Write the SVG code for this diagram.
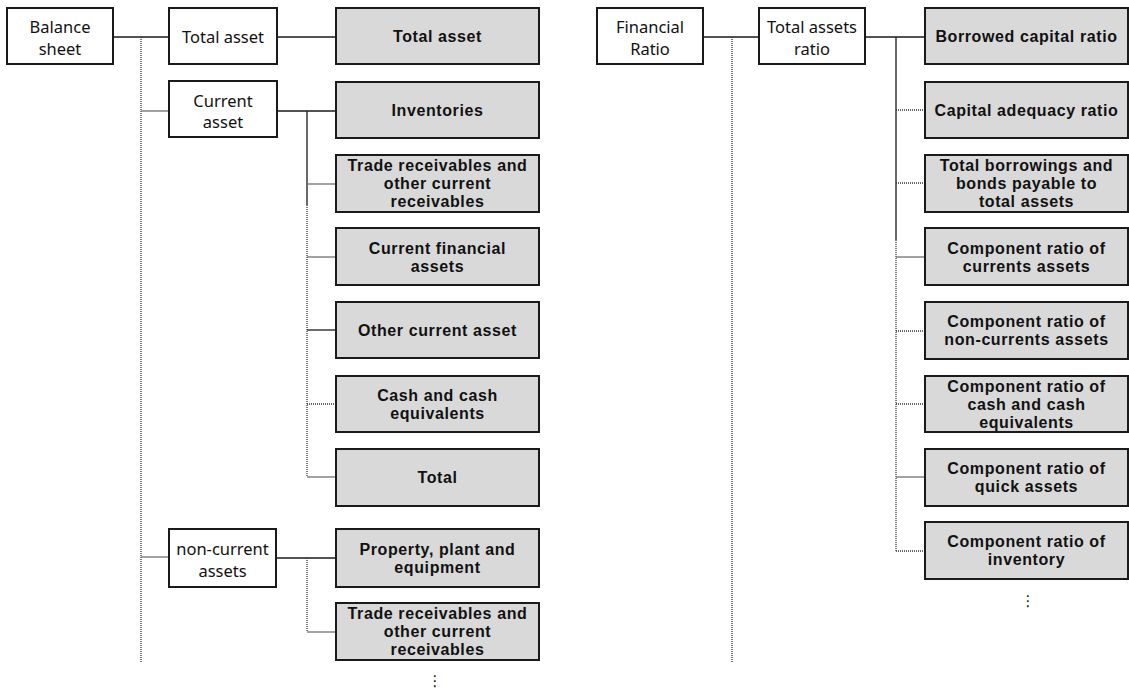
<svg xmlns="http://www.w3.org/2000/svg" width="1129" height="688" viewBox="0 0 1129 688">
  <style>
    .plain rect { fill: #ffffff; stroke: #1a1a1a; stroke-width: 2; }
    .item rect { fill: #d9d9d9; stroke: #1a1a1a; stroke-width: 2; }
    .plain text { font-family: "Noto Sans", "Liberation Sans", sans-serif; font-size: 16.5px; fill: #111; text-anchor: middle; }
    .item text { font-family: "Liberation Sans", Arial, sans-serif; font-size: 16px; font-weight: bold; letter-spacing: 0.6px; fill: #111; text-anchor: middle; }
    .solid { stroke: #1a1a1a; stroke-width: 1.3; fill: none; }
    .grey { stroke: #707070; stroke-width: 1.3; fill: none; }
    .dot { stroke: #333; stroke-width: 1.3; stroke-dasharray: 1 1; fill: none; }
    .more { font-family: "DejaVu Sans", sans-serif; font-size: 15px; fill: #111; text-anchor: middle; }
  </style>

  <!-- connectors -->
  <g id="connectors">
    <!-- balance sheet trunk -->
    <line class="solid" x1="113" y1="37" x2="169" y2="37"/>
    <line class="dot" x1="141" y1="37" x2="141" y2="663"/>
    <line class="grey" x1="141" y1="111" x2="169" y2="111"/>
    <line class="grey" x1="141" y1="557" x2="169" y2="557"/>
    <!-- total asset -->
    <line class="solid" x1="277" y1="37" x2="336" y2="37"/>
    <!-- current asset branch -->
    <line class="solid" x1="277" y1="111" x2="336" y2="111"/>
    <line class="solid" x1="307" y1="111" x2="307" y2="205"/>
    <line class="dot" x1="307" y1="205" x2="307" y2="477"/>
    <line class="grey" x1="307" y1="184" x2="336" y2="184"/>
    <line class="grey" x1="307" y1="257" x2="336" y2="257"/>
    <line class="solid" x1="307" y1="330" x2="336" y2="330"/>
    <line class="dot" x1="307" y1="404" x2="336" y2="404"/>
    <line class="grey" x1="307" y1="477" x2="336" y2="477"/>
    <!-- non-current asset branch -->
    <line class="solid" x1="276" y1="558" x2="336" y2="558"/>
    <line class="dot" x1="307" y1="558" x2="307" y2="632"/>
    <line class="grey" x1="307" y1="632" x2="336" y2="632"/>
    <!-- financial ratio trunk -->
    <line class="solid" x1="703" y1="37" x2="759" y2="37"/>
    <line class="dot" x1="732" y1="37" x2="732" y2="663"/>
    <!-- total assets ratio branch -->
    <line class="solid" x1="865" y1="37" x2="925" y2="37"/>
    <line class="solid" x1="896" y1="37" x2="896" y2="240"/>
    <line class="dot" x1="896" y1="240" x2="896" y2="551"/>
    <line class="dot" x1="896" y1="110" x2="925" y2="110"/>
    <line class="dot" x1="896" y1="183" x2="925" y2="183"/>
    <line class="grey" x1="896" y1="257" x2="925" y2="257"/>
    <line class="dot" x1="896" y1="331" x2="925" y2="331"/>
    <line class="dot" x1="896" y1="404" x2="925" y2="404"/>
    <line class="grey" x1="896" y1="477" x2="925" y2="477"/>
    <line class="dot" x1="896" y1="551" x2="925" y2="551"/>
  </g>

  <!-- balance sheet side -->
  <g id="balance-sheet" class="plain">
    <rect x="7" y="8" width="106" height="56"/>
    <text x="60" y="33">Balance</text>
    <text x="60" y="55">sheet</text>
  </g>
  <g id="total-asset-group" class="plain">
    <rect x="169" y="8" width="108" height="56"/>
    <text x="223" y="43">Total asset</text>
  </g>
  <g id="current-asset-group" class="plain">
    <rect x="169" y="81" width="108" height="56"/>
    <text x="223" y="107">Current</text>
    <text x="223" y="128">asset</text>
  </g>
  <g id="non-current-group" class="plain">
    <rect x="169" y="529" width="107" height="58"/>
    <text x="222.5" y="555">non-current</text>
    <text x="222.5" y="577">assets</text>
  </g>

  <g id="total-asset" class="item">
    <rect x="336" y="8" width="203" height="56"/>
    <text x="437.5" y="42">Total asset</text>
  </g>
  <g id="inventories" class="item">
    <rect x="336" y="82" width="203" height="56"/>
    <text x="437.5" y="116">Inventories</text>
  </g>
  <g id="trade-receivables" class="item">
    <rect x="336" y="155" width="203" height="57"/>
    <text x="437.5" y="171">Trade receivables and</text>
    <text x="437.5" y="189">other current</text>
    <text x="437.5" y="207">receivables</text>
  </g>
  <g id="current-financial-assets" class="item">
    <rect x="336" y="228" width="203" height="57"/>
    <text x="437.5" y="254">Current financial</text>
    <text x="437.5" y="272">assets</text>
  </g>
  <g id="other-current-asset" class="item">
    <rect x="336" y="302" width="203" height="56"/>
    <text x="437.5" y="336">Other current asset</text>
  </g>
  <g id="cash-equivalents" class="item">
    <rect x="336" y="376" width="203" height="56"/>
    <text x="437.5" y="401">Cash and cash</text>
    <text x="437.5" y="419">equivalents</text>
  </g>
  <g id="total" class="item">
    <rect x="336" y="449" width="203" height="57"/>
    <text x="437.5" y="483">Total</text>
  </g>
  <g id="property-plant" class="item">
    <rect x="336" y="529" width="203" height="58"/>
    <text x="437.5" y="555">Property, plant and</text>
    <text x="437.5" y="573">equipment</text>
  </g>
  <g id="non-current-receivables" class="item">
    <rect x="336" y="603" width="203" height="57"/>
    <text x="437.5" y="619">Trade receivables and</text>
    <text x="437.5" y="637">other current</text>
    <text x="437.5" y="655">receivables</text>
  </g>
  <text id="left-more" class="more" x="435" y="686">⋮</text>

  <!-- financial ratio side -->
  <g id="financial-ratio" class="plain">
    <rect x="597" y="8" width="106" height="56"/>
    <text x="650" y="33">Financial</text>
    <text x="650" y="55">Ratio</text>
  </g>
  <g id="total-assets-ratio" class="plain">
    <rect x="759" y="8" width="106" height="56"/>
    <text x="812" y="33">Total assets</text>
    <text x="812" y="55">ratio</text>
  </g>

  <g id="borrowed-capital" class="item">
    <rect x="925" y="8" width="203" height="56"/>
    <text x="1026.5" y="42">Borrowed capital ratio</text>
  </g>
  <g id="capital-adequacy" class="item">
    <rect x="925" y="82" width="203" height="56"/>
    <text x="1026.5" y="116">Capital adequacy ratio</text>
  </g>
  <g id="borrowings-bonds" class="item">
    <rect x="925" y="155" width="203" height="57"/>
    <text x="1026.5" y="171">Total borrowings and</text>
    <text x="1026.5" y="189">bonds payable to</text>
    <text x="1026.5" y="207">total assets</text>
  </g>
  <g id="ratio-current" class="item">
    <rect x="925" y="228" width="203" height="57"/>
    <text x="1026.5" y="254">Component ratio of</text>
    <text x="1026.5" y="272">currents assets</text>
  </g>
  <g id="ratio-non-current" class="item">
    <rect x="925" y="302" width="203" height="57"/>
    <text x="1026.5" y="327">Component ratio of</text>
    <text x="1026.5" y="345">non-currents assets</text>
  </g>
  <g id="ratio-cash" class="item">
    <rect x="925" y="376" width="203" height="56"/>
    <text x="1026.5" y="392">Component ratio of</text>
    <text x="1026.5" y="410">cash and cash</text>
    <text x="1026.5" y="428">equivalents</text>
  </g>
  <g id="ratio-quick" class="item">
    <rect x="925" y="449" width="203" height="57"/>
    <text x="1026.5" y="474">Component ratio of</text>
    <text x="1026.5" y="492">quick assets</text>
  </g>
  <g id="ratio-inventory" class="item">
    <rect x="925" y="522" width="203" height="57"/>
    <text x="1026.5" y="547">Component ratio of</text>
    <text x="1026.5" y="565">inventory</text>
  </g>
  <text id="right-more" class="more" x="1028" y="606">⋮</text>
</svg>
